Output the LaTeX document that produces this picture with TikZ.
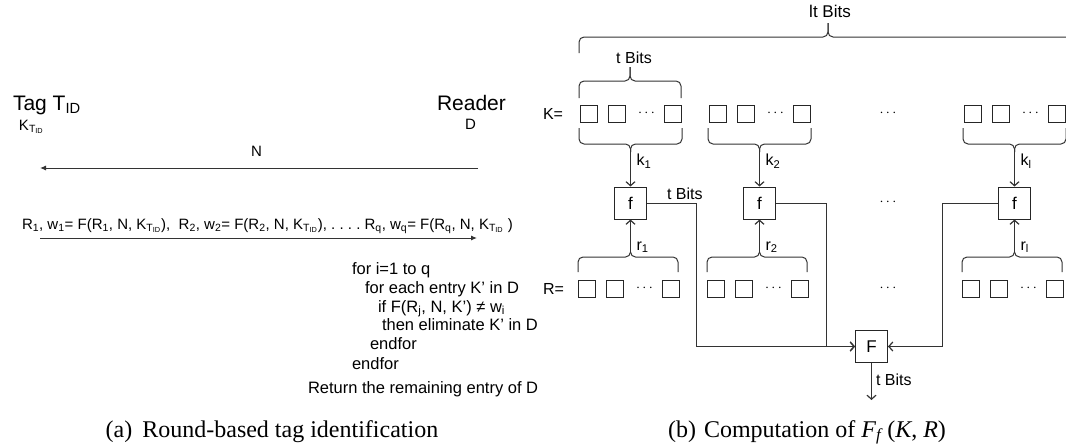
\documentclass[tikz,border=0pt]{standalone}
\usepackage{fontspec}
\setmainfont{Liberation Sans}
\newfontfamily\capserif{Liberation Serif}
\usetikzlibrary{arrows.meta}
\tikzset{
  txt/.style={inner sep=0pt, outer sep=0pt},
  big/.style={txt, font=\fontsize{21}{24}\selectfont},
  mid/.style={txt, font=\fontsize{15}{17}\selectfont},
  alg/.style={txt, font=\fontsize{16.5}{18}\selectfont},
  lbl/.style={txt, font=\fontsize{16}{18}\selectfont},
  capt/.style={txt, font=\capserif\fontsize{24}{26}\selectfont},
  sq/.style={draw=black!85, line width=1pt, minimum size=17pt, inner sep=0pt},
  fbox/.style={draw=black!85, line width=1pt, minimum size=32pt, inner sep=0pt, font=\fontsize{17}{18}\selectfont},
  dotsn/.style={txt, font=\fontsize{14}{14}\selectfont},
  conn/.style={draw=black!80, line width=1pt},
  arr/.style={conn, -{Straight Barb[length=4pt,width=9pt,line width=1.2pt]}},
  tri/.style={conn, -{Latex[length=6pt,width=5pt]}},
  brc/.style={draw=black!80, line width=1pt, rounded corners=5pt}
}
\newcommand\mybrace[6]{%
  \draw[brc] (#1,#5) -- (#1,#4) -- (#3,#4) -- (#3,#6);
  \draw[brc] (#2,#5) -- (#2,#4) -- (#3,#4) -- (#3,#6);}
\begin{document}
\begin{tikzpicture}[x=1pt,y=-1pt]
\useasboundingbox (0,0) rectangle (1066,447);
% ---------- left panel ----------
\node[big, anchor=base west] (tag) at (13,110) {Tag T\textsubscript{ID}};
\node[big, anchor=base west] (reader) at (437,110) {Reader};
\node[mid, anchor=base west] (ktid) at (19,130) {K\textsubscript{T\textsubscript{ID}}};
\node[mid, anchor=base west] (dset) at (465,129) {D};
\node[mid, anchor=base west] (nlab) at (251,156) {N};
\coordinate (n1) at (478,168);
\coordinate (n2) at (40,168);
\draw[tri] (n1) -- (n2);
\node[mid, anchor=base west] (msg) at (22,229) {R\textsubscript{1}, w\textsubscript{1}= F(R\textsubscript{1}, N, K\textsubscript{T\textsubscript{ID}}),\ \ R\textsubscript{2}, w\textsubscript{2}= F(R\textsubscript{2}, N, K\textsubscript{T\textsubscript{ID}}), .\ .\ .\ .\ R\textsubscript{q}, w\textsubscript{q}= F(R\textsubscript{q}, N, K\textsubscript{T\textsubscript{ID}} )};
\coordinate (m1) at (40,238);
\coordinate (m2) at (477,238);
\draw[tri] (m1) -- (m2);
\node[alg, anchor=base west] (a1) at (352,274) {for i=1 to q};
\node[alg, anchor=base west] (a2) at (365,293) {for each entry K’ in D};
\node[alg, anchor=base west] (a3) at (378,312) {if F(R\textsubscript{j}, N, K’) ≠ w\textsubscript{i}};
\node[alg, anchor=base west] (a4) at (382,330) {then eliminate K’ in D};
\node[alg, anchor=base west] (a5) at (370,349) {endfor};
\node[alg, anchor=base west] (a6) at (352,369) {endfor};
\node[alg, anchor=base west] (a7) at (308,393) {Return the remaining entry of D};
\node[capt, anchor=base] (capa) at (272,437) {(a)\hspace{10pt}Round-based tag identification};
% ---------- right panel ----------
\node[txt, anchor=base] (ltb) at (830,17) {\fontsize{17}{18}\selectfont lt Bits};
\mybrace{579}{1077}{828}{37}{53}{23}
\node[lbl, anchor=base] (tb1) at (634,63) {t Bits};
\mybrace{579}{681}{630}{81}{98}{67}
\node[lbl, anchor=west] (keq) at (543,113.5) {K=};
\node[lbl, anchor=west] (req) at (543,288.5) {R=};
\foreach \g/\c/\s in {1/630.5/1,2/759.5/2,3/1014.5/l}{
  \node[sq] (K\g a) at (\c-42,113.5) {};
  \node[sq] (K\g b) at (\c-14,113.5) {};
  \node[dotsn] (K\g d) at (\c+16,113.5) {$\cdots$};
  \node[sq] (K\g c) at (\c+42,113.5) {};
  \node[sq] (R\g a) at (\c-44,288.5) {};
  \node[sq] (R\g b) at (\c-16,288.5) {};
  \node[dotsn] (R\g d) at (\c+14,288.5) {$\cdots$};
  \node[sq] (R\g c) at (\c+40,288.5) {};
  \mybrace{\c-51.5}{\c+51.5}{\c}{144}{128}{152}
  \mybrace{\c-52.5}{\c+47.5}{\c}{257}{272}{252}
  \coordinate (kt\g) at (\c,152);
  \coordinate (rt\g) at (\c,252);
  \node[fbox] (f\g) at (\c,203) {f};
  \draw[arr] (kt\g) -- (f\g.north);
  \draw[arr] (rt\g) -- (f\g.south);
  \node[lbl, anchor=west] (kl\g) at (\c+6,161) {k\textsubscript{\s}};
  \node[lbl, anchor=west] (rl\g) at (\c+6,247) {r\textsubscript{\s}};
}
\node[dotsn] (md1) at (888,113.5) {$\cdots$};
\node[dotsn] (md2) at (888,202) {$\cdots$};
\node[dotsn] (md3) at (888,288.5) {$\cdots$};
\node[lbl, anchor=base west] (tb2) at (667,199) {t Bits};
\node[fbox] (F) at (871.5,346.5) {F};
\draw[arr] (f1.east) -- ++(49,0) |- (F.west);
\draw[arr] (f2.east) -- ++(50,0) |- (F.west);
\draw[arr] (f3.west) -- ++(-56,0) |- (F.east);
\coordinate (Fo) at (871.5,400);
\draw[arr] (F.south) -- (Fo);
\node[lbl, anchor=west] (tb3) at (876,380) {t Bits};
\node[capt, anchor=base] (capb) at (807,437) {(b)\hspace{8pt}Computation of \textit{F}\textsubscript{\textit{f}}\,(\textit{K}, \textit{R})};
\end{tikzpicture}
\end{document}
